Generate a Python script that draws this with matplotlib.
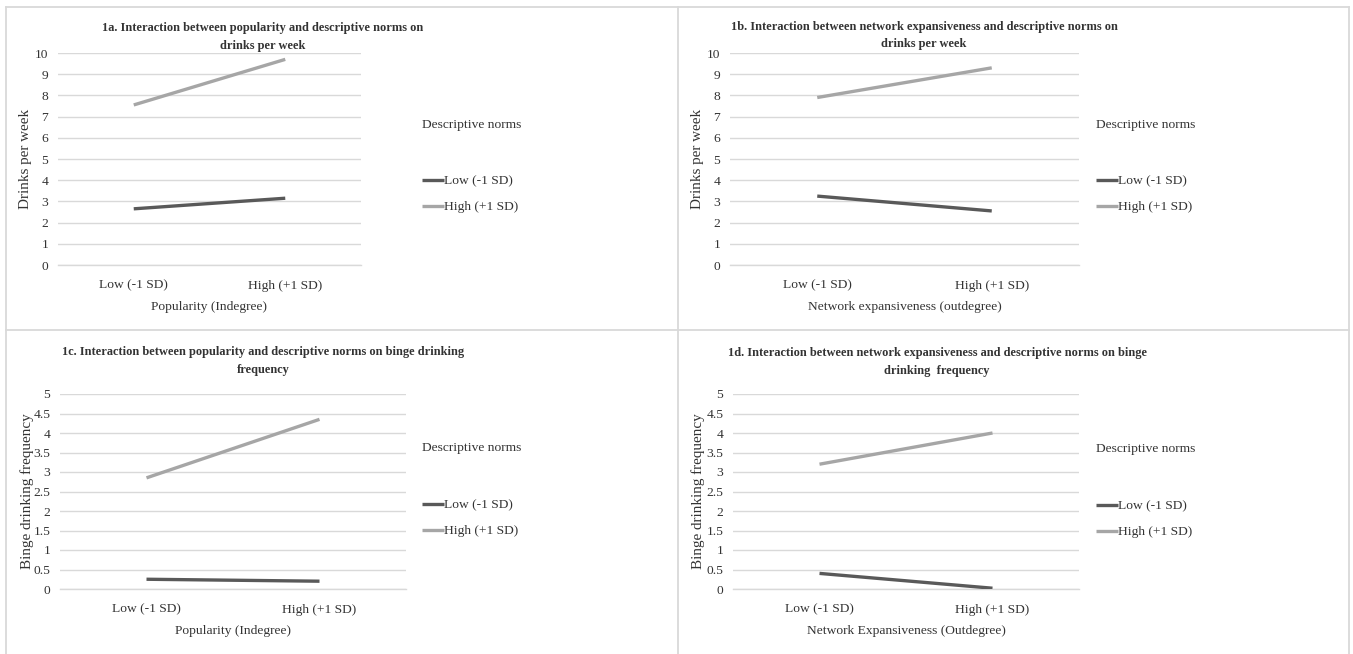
import matplotlib
matplotlib.use("Agg")
import matplotlib.pyplot as plt
from matplotlib.lines import Line2D
from matplotlib.ticker import MultipleLocator, FuncFormatter

# ---------------- data ----------------
x_categories = ["Low (-1 SD)", "High (+1 SD)"]
series_names = ["Low (-1 SD)", "High (+1 SD)"]
legend_title = "Descriptive norms"

titles_1a = ["1a. Interaction between popularity and descriptive norms on", "drinks per week"]
titles_1b = ["1b. Interaction between network expansiveness and descriptive norms on", "drinks per week"]
titles_1c = ["1c. Interaction between popularity and descriptive norms on binge drinking", "frequency"]
titles_1d = ["1d. Interaction between network expansiveness and descriptive norms on binge", "drinking  frequency"]

xlabel_1a = "Popularity (Indegree)"
xlabel_1b = "Network expansiveness (outdegree)"
xlabel_1c = "Popularity (Indegree)"
xlabel_1d = "Network Expansiveness (Outdegree)"

ylabel_1ab = "Drinks per week"
ylabel_1cd = "Binge drinking frequency"

low_1a = [2.65, 3.15]
high_1a = [7.55, 9.70]
low_1b = [3.25, 2.55]
high_1b = [7.90, 9.30]
low_1c = [0.25, 0.20]
high_1c = [2.85, 4.35]
low_1d = [0.40, 0.02]
high_1d = [3.20, 4.00]

# ---------------- style ----------------
W, H = 1353, 654
plt.rcParams['font.family'] = ['Liberation Serif', 'DejaVu Serif']
fig = plt.figure(figsize=(W / 100, H / 100), dpi=100)

def fx(px):
    return px / W

def fy(py):
    return 1 - py / H

COL_LOW = "#595959"
COL_HIGH = "#a6a6a6"
GRID = "#d9d9d9"
TXT = "#333333"
FS = 9.7
FS_TITLE = 8.9
FS_YLAB = 10.9

# panel borders
border_kw = dict(color=GRID, lw=1.3, transform=fig.transFigure)
for xpx in [6, 677.5, 1349]:
    fig.add_artist(Line2D([fx(xpx), fx(xpx)], [fy(7), fy(654)], **border_kw))
for ypx in [7, 330.5]:
    fig.add_artist(Line2D([fx(6), fx(1349)], [fy(ypx), fy(ypx)], **border_kw))

panels = [
    dict(box=(58, 361, 53, 265), ymax=10, step=1, low=low_1a, high=high_1a,
         title=titles_1a, tcx=263, tys=(27, 45), xlabel=xlabel_1a, ylabel=ylabel_1ab,
         ylx=26, lgx=422, lgty=125, lgy=180),
    dict(box=(730, 1079, 53, 265), ymax=10, step=1, low=low_1b, high=high_1b,
         title=titles_1b, tcx=924, tys=(26, 43), xlabel=xlabel_1b, ylabel=ylabel_1ab,
         ylx=698, lgx=1096, lgty=125, lgy=180),
    dict(box=(60, 406, 394, 589), ymax=5, step=0.5, low=low_1c, high=high_1c,
         title=titles_1c, tcx=263, tys=(351, 369), xlabel=xlabel_1c, ylabel=ylabel_1cd,
         ylx=27, lgx=422, lgty=448, lgy=504),
    dict(box=(733, 1079, 394, 589), ymax=5, step=0.5, low=low_1d, high=high_1d,
         title=titles_1d, tcx=937, tys=(352, 370), xlabel=xlabel_1d, ylabel=ylabel_1cd,
         ylx=698, lgx=1096, lgty=449, lgy=505),
]

for p in panels:
    l, r, t, b = p["box"]
    ax = fig.add_axes([fx(l), fy(b), fx(r) - fx(l), (b - t) / H])
    xs = list(range(len(x_categories)))
    h_low, = ax.plot(xs, p["low"], color=COL_LOW, lw=2.4, solid_capstyle='butt', label=series_names[0], zorder=3)
    h_high, = ax.plot(xs, p["high"], color=COL_HIGH, lw=2.4, solid_capstyle='butt', label=series_names[1], zorder=3)
    ax.set_xlim(-0.5, len(x_categories) - 0.5)
    ax.set_ylim(0, p["ymax"])
    ax.yaxis.set_major_locator(MultipleLocator(p["step"]))
    ax.yaxis.set_major_formatter(FuncFormatter(lambda v, pos: f"{v:g}"))
    ax.set_xticks(xs)
    ax.set_xticklabels(x_categories)
    ax.grid(axis='y', color=GRID, lw=1.0, zorder=0)
    ax.set_axisbelow(True)
    for s in ['top', 'right', 'left']:
        ax.spines[s].set_visible(False)
    ax.spines['bottom'].set_color(GRID)
    ax.spines['bottom'].set_linewidth(1.0)
    ax.tick_params(axis='both', length=0, labelsize=FS, colors=TXT)
    ax.tick_params(axis='y', pad=7)
    ax.tick_params(axis='x', pad=10.5)
    ax.set_xlabel(p["xlabel"], fontsize=FS, color=TXT, labelpad=7)
    # y label
    fig.text(fx(p["ylx"]), fy((t + b) / 2), p["ylabel"], rotation=90, ha='center', va='center',
             fontsize=FS_YLAB, color=TXT)
    # title
    for line, ty in zip(p["title"], p["tys"]):
        fig.text(fx(p["tcx"]), fy(ty + 1), line, ha='center', va='center', fontsize=FS_TITLE,
                 fontweight='bold', color=TXT)
    # legend
    fig.text(fx(p["lgx"]), fy(p["lgty"]), legend_title, ha='left', va='center', fontsize=FS, color=TXT)
    ax.legend(handles=[h_low, h_high], loc='upper left',
              bbox_to_anchor=(fx(p["lgx"]), fy(p["lgy"] - 5)), bbox_transform=fig.transFigure,
              frameon=False, fontsize=FS, handlelength=1.6, handletextpad=0.0,
              borderpad=0, borderaxespad=0, labelspacing=1.0, labelcolor=TXT)

fig.savefig("out.png", dpi=100)
